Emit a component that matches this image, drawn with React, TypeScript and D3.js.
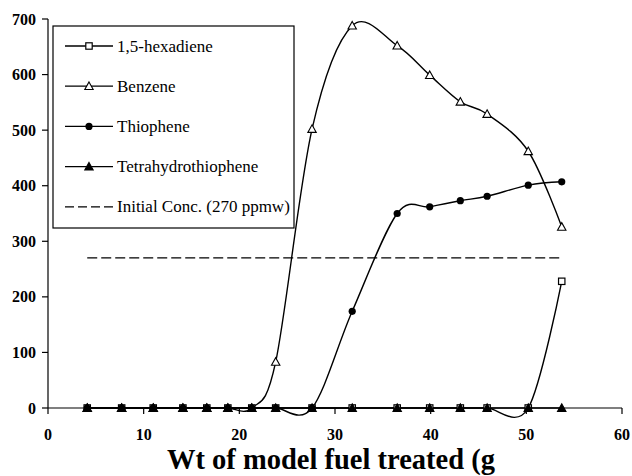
import * as d3 from "d3";

// x values (g of model fuel treated)
const xVals = [4.1, 7.7, 11.0, 14.1, 16.6, 18.8, 21.3, 23.8, 27.6, 31.8, 36.5, 39.9, 43.1, 45.9, 50.2, 53.7];

const hexadiene = [0, 0, 0, 0, 0, 0, 0, 0, 0, 0, 0, 0, 0, 0, 0, 228];
const benzene = [0, 0, 0, 0, 0, 0, 0, 83, 502, 688, 652, 599, 551, 529, 462, 326];
const thiophene = [0, 0, 0, 0, 0, 0, 0, 0, 0, 174, 350, 362, 373, 381, 401, 407];
const tetrahydro = [0, 0, 0, 0, 0, 0, 0, 0, 0, 0, 0, 0, 0, 0, 0, 0];

const initialConc = 270;
const xTicks = [0, 10, 20, 30, 40, 50, 60];
const yTicks = [0, 100, 200, 300, 400, 500, 600, 700];

const legendLabels = ["1,5-hexadiene", "Benzene", "Thiophene", "Tetrahydrothiophene", "Initial Conc. (270 ppmw)"];

const series = [
  { name: legendLabels[0], values: hexadiene, marker: "square" },
  { name: legendLabels[1], values: benzene, marker: "triangleOpen" },
  { name: legendLabels[2], values: thiophene, marker: "circle" },
  { name: legendLabels[3], values: tetrahydro, marker: "triangle" },
];

const W = 632;
const H = 476;
const FONT = "Liberation Serif";

const x = d3.scaleLinear().domain([0, 60]).range([48, 622]);
const y = d3.scaleLinear().domain([0, 700]).range([408, 19]);

// Excel-style smoothed line
const line = d3
  .line<number>()
  .x((_, i) => x(xVals[i]))
  .y((d) => y(d))
  .curve(d3.curveCardinal.tension(0));

const Marker = ({ type, cx, cy }: { type: string; cx: number; cy: number }) => {
  if (type === "square") {
    return <rect x={cx - 3.2} y={cy - 3.2} width={6.4} height={6.4} fill="#fff" stroke="#000" strokeWidth={1.2} />;
  }
  if (type === "circle") {
    return <circle cx={cx} cy={cy} r={3.6} fill="#000" />;
  }
  const s = 4.2;
  const pts = `${cx},${cy - s} ${cx + s},${cy + s * 0.8} ${cx - s},${cy + s * 0.8}`;
  return <polygon points={pts} fill={type === "triangle" ? "#000" : "#fff"} stroke="#000" strokeWidth={1.1} />;
};

const App = () => {
  document.body.style.margin = "0";
  return (
    <svg width={W} height={H} style={{ display: "block", background: "#fff" }}>
      {/* initial concentration */}
      <line
        x1={x(xVals[0])}
        x2={x(xVals[xVals.length - 1])}
        y1={y(initialConc)}
        y2={y(initialConc)}
        stroke="#000"
        strokeWidth={1.2}
        strokeDasharray="10,4"
      />

      {/* axes */}
      <line x1={48} x2={48} y1={y(700)} y2={y(0)} stroke="#000" strokeWidth={1.2} />
      <line x1={x(0)} x2={x(60)} y1={y(0)} y2={y(0)} stroke="#000" strokeWidth={1.2} />
      {yTicks.map((t) => (
        <g key={"y" + t}>
          <line x1={42} x2={48} y1={y(t)} y2={y(t)} stroke="#000" strokeWidth={1.2} />
          <text x={36} y={y(t) + 5.5} textAnchor="end" fontFamily={FONT} fontWeight="bold" fontSize={16}>
            {t}
          </text>
        </g>
      ))}
      {xTicks.map((t) => (
        <g key={"x" + t}>
          <line x1={x(t)} x2={x(t)} y1={y(0)} y2={y(0) + 6} stroke="#000" strokeWidth={1.2} />
          <text x={x(t)} y={440} textAnchor="middle" fontFamily={FONT} fontWeight="bold" fontSize={16}>
            {t}
          </text>
        </g>
      ))}

      {/* series */}
      {series.map((s) => (
        <path key={"p" + s.name} d={line(s.values) || ""} fill="none" stroke="#000" strokeWidth={1.4} />
      ))}
      {series.map((s) => (
        <g key={"m" + s.name}>
          {s.values.map((v, i) => (
            <Marker key={i} type={s.marker} cx={x(xVals[i])} cy={y(v)} />
          ))}
        </g>
      ))}

      {/* legend */}
      <rect x={53} y={26} width={241} height={202} fill="#fff" stroke="#000" strokeWidth={1.2} />
      {legendLabels.map((lab, i) => {
        const ry = 46 + i * 40.2;
        return (
          <g key={lab}>
            <line
              x1={65}
              x2={113}
              y1={ry}
              y2={ry}
              stroke="#000"
              strokeWidth={1.3}
              strokeDasharray={i === 4 ? "9,4" : undefined}
            />
            {i < 4 && <Marker type={series[i].marker} cx={89} cy={ry} />}
            <text x={117} y={ry + 5.5} fontFamily={FONT} fontSize={17}>
              {lab}
            </text>
          </g>
        );
      })}

      {/* x axis title */}
      <text x={167} y={469} fontFamily={FONT} fontWeight="bold" fontSize={28.5}>
        Wt of model fuel treated (g
      </text>
    </svg>
  );
};

export default App;
